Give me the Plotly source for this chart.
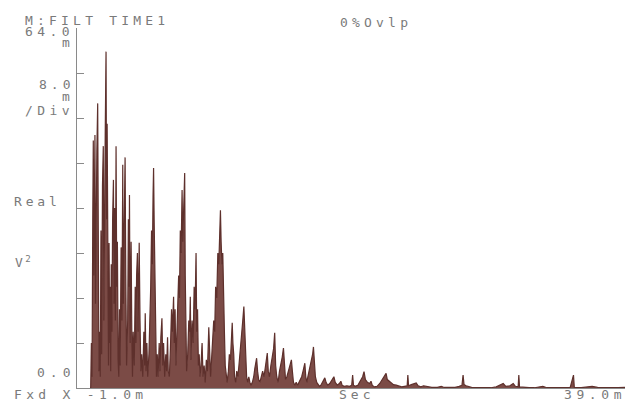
import plotly.graph_objects as go

# Time axis (ms) and filtered time record (Real, V^2, in milli units)
t_ms = [-0.05, 0.0, 0.05, 0.1, 0.15, 0.19, 0.23, 0.27, 0.31, 0.35, 0.4, 0.45, 0.51, 0.55, 0.6,
        0.65, 0.7, 0.75, 0.8, 0.86, 0.92, 0.96,
        1.0, 1.06, 1.12, 1.16, 1.2, 1.25, 1.3,
        1.34, 1.38, 1.42, 1.46, 1.5, 1.55, 1.6,
        1.66, 1.7, 1.75, 1.8, 1.85, 1.9, 1.95, 2.0,
        2.05, 2.1, 2.15, 2.22, 2.28, 2.34, 2.38, 2.44, 2.51, 2.56, 2.62,
        2.7, 2.75, 2.8, 2.83, 2.88, 2.95, 3.0, 3.05,
        3.1, 3.18, 3.25, 3.3, 3.35, 3.41, 3.46, 3.54, 3.6, 3.66,
        3.72, 3.8, 3.88, 3.94, 3.98, 4.04, 4.1, 4.16,
        4.25, 4.32, 4.38, 4.44, 4.5, 4.55, 4.59, 4.63, 4.68, 4.74, 4.8, 4.86, 4.92,
        5.0, 5.06, 5.12, 5.2, 5.26, 5.32, 5.4, 5.48, 5.54, 5.61, 5.66, 5.74,
        5.82, 5.9, 5.96, 6.05, 6.1, 6.16, 6.22, 6.28,
        6.35, 6.42, 6.48, 6.54, 6.6, 6.67, 6.72, 6.77, 6.86, 6.9, 6.95, 7.0,
        7.08, 7.16, 7.22, 7.27, 7.32, 7.4, 7.48, 7.55, 7.62, 7.69, 7.74, 7.8, 7.86, 7.92, 7.98,
        8.05, 8.13, 8.2, 8.28, 8.36, 8.44, 8.52, 8.62, 8.68, 8.75,
        8.82, 8.9, 8.98, 9.05, 9.12, 9.2, 9.28, 9.35, 9.42, 9.47, 9.52, 9.58, 9.64, 9.7, 9.76, 9.82, 9.9, 9.96,
        10.05, 10.12, 10.2, 10.27, 10.33, 10.38, 10.44, 10.5, 10.58, 10.66, 10.74, 10.82, 10.9, 10.98,
        11.05, 11.1, 11.18, 11.24, 11.3, 11.38, 11.46, 11.54, 11.62, 11.7, 11.8, 11.9, 11.98,
        12.05, 12.11, 12.18, 12.26, 12.35, 12.45, 12.55, 12.65, 12.75, 12.82, 12.89, 12.96, 13.05, 13.15, 13.25, 13.35, 13.43, 13.5, 13.58,
        13.68, 13.78, 13.88, 13.98, 14.07, 14.14, 14.22, 14.32, 14.42, 14.55, 14.65, 14.72, 14.8, 14.9, 15.0,
        15.1, 15.2, 15.3, 15.4, 15.5, 15.63, 15.7, 15.78, 15.85, 15.95, 16.05, 16.12, 16.2, 16.26, 16.32, 16.4, 16.5, 16.6, 16.7,
        16.8, 16.9, 17.0, 17.09, 17.18, 17.3, 17.45, 17.6, 17.75, 17.85, 18.0, 18.15, 18.26, 18.35, 18.5, 18.7, 18.9, 19.05, 19.12, 19.18,
        19.3, 19.5, 19.7, 19.85, 19.95, 20.05, 20.2, 20.35, 20.46, 20.55, 20.7, 20.9, 21.1, 21.3, 21.45, 21.56, 21.65, 21.8, 21.95, 22.1, 22.3, 22.5,
        22.7, 22.9, 23.1, 23.15, 23.2, 23.4, 23.6, 23.76, 23.9, 24.1, 24.3, 24.5, 24.7, 24.9,
        25.3, 25.59, 25.8, 26.2, 26.6, 26.9, 27.1, 27.18, 27.25, 27.4, 27.6, 27.8, 28.2, 28.6, 28.9, 29.2, 29.6, 29.9, 30.11, 30.3, 30.6, 30.84, 31.0, 31.2,
        31.25, 31.3, 31.6, 32.0, 32.4, 32.8, 33.0, 33.3, 33.8, 34.4, 35.0, 35.24, 35.3, 35.8, 36.2, 36.6, 37.0, 37.5, 38.0, 38.5, 39.0]

v_m = [0, 0, 8, 2, 30, 44, 20, 40, 45, 15, 35, 42, 50.6, 20, 3,
       10, 2, 28, 6, 36, 43, 12,
       35, 45, 59.8, 30, 47, 20, 4,
       25.8, 8, 18, 3, 22, 10, 30,
       37, 15, 32, 12, 43, 18, 26, 5,
       2, 14, 4, 25, 12, 39.7, 15, 28, 41, 20, 4,
       12, 30, 18, 34.3, 8, 26, 10, 2,
       10, 4, 18, 8, 20, 24, 10, 25.8, 12, 3,
       6, 2, 10, 4, 13.3, 3, 8, 2,
       6, 12, 18, 28, 22, 34, 39.1, 30, 18, 8, 2, 6, 2,
       8, 3, 9, 12.4, 4, 8, 2, 6, 3, 9, 3, 2,
       7, 14, 10, 16.2, 8, 14, 4, 8,
       14, 20, 16, 28, 24, 35.2, 26, 30, 38.2, 20, 8, 3,
       6, 12, 10, 16.2, 5, 12, 8, 18, 14, 24, 10, 14, 4, 6, 2,
       4, 8, 2, 4, 1, 5, 3, 10.8, 4, 2,
       5, 8, 12, 10, 18, 16, 24, 22, 28, 31.6, 26, 22, 24, 14, 10, 4, 2, 1,
       3, 6, 5, 9, 11.6, 8, 6, 2, 1, 3, 2, 4, 6, 8,
       10, 12, 14.5, 10, 6, 2, 1, 2, 1, 0.5, 1, 2, 3.5,
       4.5, 5.3, 3, 1.5, 1, 2, 3, 2, 4, 5, 6.2, 3, 2, 4, 6, 7, 9.8, 4, 2,
       1, 3, 4, 5.5, 7.1, 3, 1.5, 2, 3, 4, 5, 3, 1, 0.5, 1,
       0.5, 1, 1.5, 2, 3, 4.4, 2, 1, 2, 3, 4, 5, 6, 7.3, 5, 2, 1, 0.5, 0.3,
       0.5, 1, 1.5, 1.8, 1, 0.5, 0.8, 1.5, 2, 1, 0.5, 0.8, 1.2, 0.5, 0.3, 0.4, 0.3, 0.5, 2.3, 0.5,
       0.3, 0.5, 1.5, 2, 2.9, 1.5, 1, 0.8, 1.2, 0.5, 0.2, 0.3, 0.8, 1.5, 2, 2.6, 1.5, 1.2, 1, 0.6, 0.5, 0.3,
       0.2, 0.3, 0.4, 2.3, 0.4, 0.6, 0.8, 0.9, 0.4, 0.2, 0.4, 0.3, 0.1, 0.1,
       0.1, 0.3, 0.1, 0.05, 0.1, 0.3, 0.5, 2.3, 0.6, 0.4, 0.3, 0.1, 0.05, 0.05, 0.1, 0.05, 0.2, 0.6, 0.8, 0.3, 0.4, 0.8, 0.3, 0.2,
       2.3, 0.2, 0.1, 0.05, 0.05, 0.3, 0.3, 0.05, 0.05, 0.05, 0.1, 2.3, 0.1, 0.05, 0.2, 0.3, 0.1, 0.05, 0.05, 0.05, 0.1]

y_ticks = [0, 8, 16, 24, 32, 40, 48, 56, 64]

W, H = 627, 401
L, R, T, B = 77, 625, 28, 388

fig = go.Figure()
fig.add_trace(go.Scatter(
    x=t_ms, y=v_m, mode="lines", fill="tozeroy",
    line=dict(color="#5e302c", width=1.2),
    fillcolor="rgba(112,60,54,0.92)",
    hoverinfo="skip", showlegend=False,
))

fig.update_layout(
    width=W, height=H,
    margin=dict(l=L, r=W - R, t=T, b=H - B, pad=0, autoexpand=False),
    paper_bgcolor="white", plot_bgcolor="white",
    xaxis=dict(range=[-1, 39], showgrid=False, zeroline=False, showline=True, automargin=False,
               linecolor="#8a8a8a", linewidth=1.2, ticks="", showticklabels=False, fixedrange=True),
    yaxis=dict(range=[0, 64], showgrid=False, zeroline=False, showline=True, automargin=False,
               linecolor="#8a8a8a", linewidth=1.2, tickvals=y_ticks, ticks="inside",
               ticklen=7, tickcolor="#8a8a8a", tickwidth=1.2, showticklabels=False, fixedrange=True),
)

def px(x):
    return (x - L) / (R - L)

def py(y):
    return (B - y) / (B - T)

FONT = dict(family="DejaVu Sans Mono", size=13, color="#7a7a7a")

def txt(s, x, y, anchor="left", sp=4.2):
    xx = x if anchor == "left" else x + sp
    fig.add_annotation(text=f'<span style="letter-spacing:{sp}px">{s}</span>',
                       x=px(xx), y=py(y), xref="paper", yref="paper",
                       xanchor=anchor, yanchor="middle", showarrow=False, font=FONT)

txt("M:FILT TIME1", 23, 20, "left", 4.2)
txt("0%Ovlp", 338, 22, "left", 4.2)
txt("64.0", 72, 31.5, "right", 4.4)
txt("m", 72, 43, "right", 0)
txt("8.0", 72, 84, "right", 4.0)
txt("m", 72, 96, "right", 0)
txt("/Div", 72, 111, "right", 4.4)
txt("Real", 12, 202, "left", 3.8)
txt("V<sup>2</sup>", 13, 262, "left", 2.5)
txt("0.0", 72, 372, "right", 5.0)
txt("Fxd X -1.0m", 12, 394, "left", 4.3)
txt("Sec", 337, 394, "left", 4.0)
txt("39.0m", 623, 394, "right", 4.6)

fig.write_html("out.html", config={"displayModeBar": False},
               post_script="document.body.style.margin='0';")
